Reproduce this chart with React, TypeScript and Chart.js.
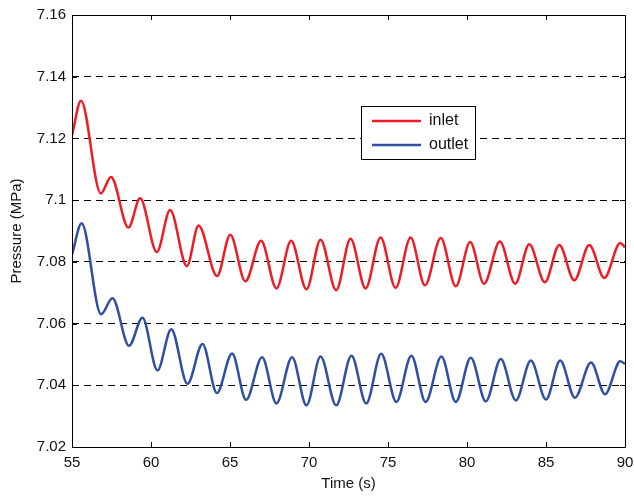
import React, { useEffect, useRef } from 'react';
import { Chart, registerables } from 'chart.js';

Chart.register(...registerables);

const inletTime = [55, 55.57, 56.82, 57.47, 58.57, 59.31, 60.37, 61.21, 62.27, 63.01, 64.18, 65.02, 65.97, 66.97, 67.94, 68.87, 69.84, 70.73, 71.72, 72.63, 73.58, 74.53, 75.48, 76.43, 77.34, 78.34, 79.29, 80.2, 81.08, 82.08, 83.05, 83.94, 84.93, 85.84, 86.79, 87.74, 88.69, 89.7, 90];
const inletPressure = [7.121, 7.1322, 7.1022, 7.1075, 7.0911, 7.1006, 7.0832, 7.0968, 7.0786, 7.0918, 7.0754, 7.0888, 7.0737, 7.0868, 7.0714, 7.0868, 7.0711, 7.0872, 7.0708, 7.0875, 7.0714, 7.0879, 7.0716, 7.0879, 7.0724, 7.0877, 7.0721, 7.0864, 7.0729, 7.0866, 7.0729, 7.0857, 7.0734, 7.0855, 7.074, 7.0855, 7.0748, 7.0861, 7.0847];

const outletTime = [55, 55.61, 56.84, 57.56, 58.61, 59.46, 60.41, 61.28, 62.31, 63.26, 64.17, 65.13, 66.02, 67.03, 67.94, 68.93, 69.84, 70.73, 71.72, 72.69, 73.62, 74.57, 75.53, 76.48, 77.38, 78.38, 79.29, 80.24, 81.19, 82.14, 83.09, 84.04, 85.0, 85.9, 86.83, 87.85, 88.74, 89.7, 90];
const outletPressure = [7.0823, 7.0925, 7.063, 7.0682, 7.0528, 7.0619, 7.0448, 7.0582, 7.0405, 7.0534, 7.0375, 7.0503, 7.0353, 7.0491, 7.0341, 7.0491, 7.0335, 7.0493, 7.0335, 7.0496, 7.0341, 7.0502, 7.0346, 7.0496, 7.0346, 7.0493, 7.0346, 7.0489, 7.0348, 7.0485, 7.0351, 7.048, 7.0354, 7.048, 7.036, 7.0474, 7.0371, 7.0478, 7.0469];

const timeTicks = [55, 60, 65, 70, 75, 80, 85, 90];
const pressureTicks = [7.02, 7.04, 7.06, 7.08, 7.1, 7.12, 7.14, 7.16];

const seriesLabels = ['inlet', 'outlet'];
const seriesColors = ['#EE1C25', '#2E4FA3'];

const FONT = "'Liberation Sans', Arial, sans-serif";

const framePlugin = {
  id: 'frame',
  afterDraw(chart: any) {
    const { ctx, chartArea: a, scales } = chart;
    ctx.save();
    ctx.strokeStyle = '#000';
    ctx.lineWidth = 1;
    ctx.setLineDash([]);
    ctx.beginPath();
    ctx.rect(Math.round(a.left) + 0.5, Math.round(a.top) + 0.5, Math.round(a.right - a.left), Math.round(a.bottom - a.top));
    ctx.stroke();
    // inward ticks
    const tl = 5;
    ctx.beginPath();
    for (const v of timeTicks) {
      const x = Math.round(scales.x.getPixelForValue(v)) + 0.5;
      ctx.moveTo(x, a.bottom);
      ctx.lineTo(x, a.bottom - tl);
      ctx.moveTo(x, a.top);
      ctx.lineTo(x, a.top + tl);
    }
    for (const v of pressureTicks) {
      const y = Math.round(scales.y.getPixelForValue(v)) + 0.5;
      ctx.moveTo(a.left, y);
      ctx.lineTo(a.left + tl, y);
      ctx.moveTo(a.right, y);
      ctx.lineTo(a.right - tl, y);
    }
    ctx.stroke();

    // legend box
    const bx = 361.5, by = 106.5, bw = 114, bh = 53;
    ctx.fillStyle = '#fff';
    ctx.fillRect(bx, by, bw, bh);
    ctx.strokeRect(bx, by, bw, bh);
    ctx.font = `16px ${FONT}`;
    ctx.textBaseline = 'middle';
    ctx.textAlign = 'left';
    chart.data.datasets.forEach((ds: any, i: number) => {
      const y = 121 + i * 24;
      ctx.strokeStyle = ds.borderColor;
      ctx.lineWidth = 2.5;
      ctx.beginPath();
      ctx.moveTo(372, y);
      ctx.lineTo(421, y);
      ctx.stroke();
      ctx.fillStyle = '#111';
      ctx.fillText(ds.label, 429, y);
    });
    ctx.restore();
  },
};

export default function App() {
  const ref = useRef<HTMLCanvasElement | null>(null);
  useEffect(() => {
    document.body.style.margin = '0';
    const canvas = ref.current!;
    const chart = new Chart(canvas, {
      type: 'line',
      data: {
        datasets: [
          {
            label: seriesLabels[0],
            data: inletTime.map((t, i) => ({ x: t, y: inletPressure[i] })),
            borderColor: seriesColors[0],
            borderWidth: 2.5,
            pointRadius: 0,
            cubicInterpolationMode: 'monotone',
            fill: false,
          },
          {
            label: seriesLabels[1],
            data: outletTime.map((t, i) => ({ x: t, y: outletPressure[i] })),
            borderColor: seriesColors[1],
            borderWidth: 2.5,
            pointRadius: 0,
            cubicInterpolationMode: 'monotone',
            fill: false,
          },
        ],
      },
      options: {
        animation: false,
        responsive: false,
        maintainAspectRatio: false,
        layout: { padding: { top: 12, right: 9, left: 0, bottom: 0 } },
        plugins: { legend: { display: false }, tooltip: { enabled: false } },
        scales: {
          x: {
            type: 'linear',
            min: 55,
            max: 90,
            afterBuildTicks: (s: any) => { s.ticks = timeTicks.map((v) => ({ value: v })); },
            afterFit: (s: any) => { s.height = 50; s.paddingRight = 0; s.paddingLeft = 0; },
            grid: { display: false, drawTicks: false },
            border: { display: false },
            ticks: { color: '#111', font: { family: FONT, size: 15 }, padding: 7, maxRotation: 0, callback: (v: any) => String(v) },
            title: { display: true, text: 'Time (s)', color: '#111', font: { family: FONT, size: 15 }, padding: { top: 0, bottom: 4 } },
          },
          y: {
            type: 'linear',
            min: 7.02,
            max: 7.16,
            afterBuildTicks: (s: any) => { s.ticks = pressureTicks.map((v) => ({ value: v })); },
            afterFit: (s: any) => { s.width = 72; },
            grid: { display: true, color: '#000', lineWidth: 1, drawTicks: false },
            border: { display: false, dash: [7, 5] },
            ticks: { color: '#111', font: { family: FONT, size: 15 }, padding: 6, callback: (v: any) => String(Number(Number(v).toFixed(2))) },
            title: { display: true, text: 'Pressure (MPa)', color: '#111', font: { family: FONT, size: 15 }, padding: { top: 8, bottom: 0 } },
          },
        },
      },
      plugins: [framePlugin],
    });
    return () => chart.destroy();
  }, []);
  return (
    <div style={{ width: 634, height: 497, background: '#fff' }}>
      <canvas ref={ref} width={634} height={497} style={{ display: 'block', width: 634, height: 497 }} />
    </div>
  );
}
